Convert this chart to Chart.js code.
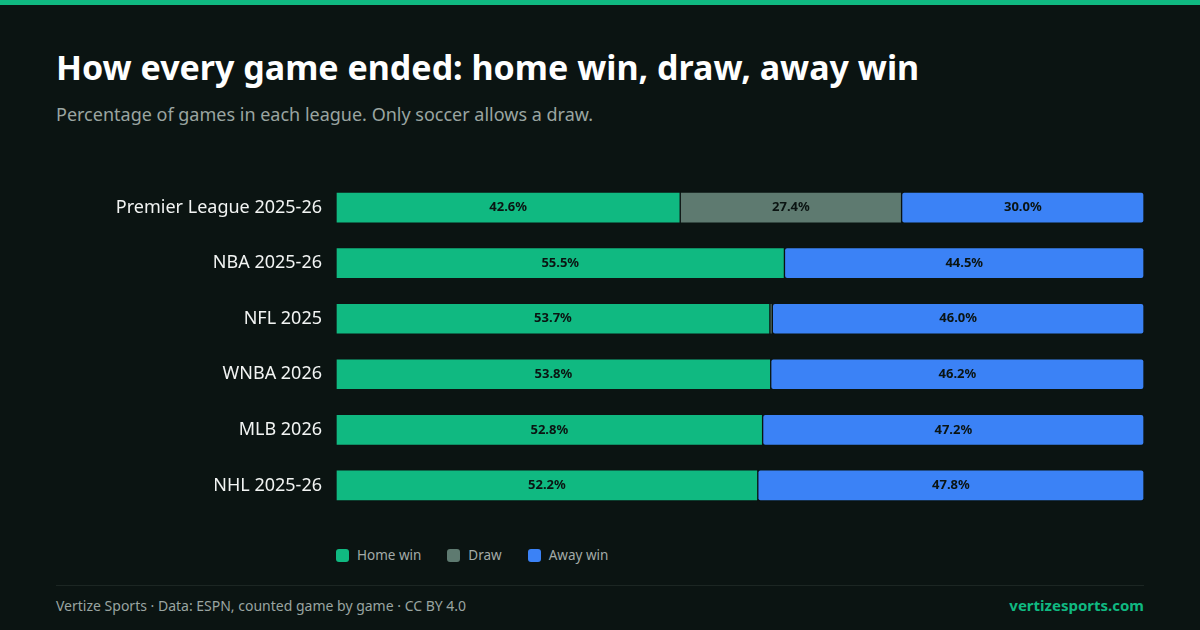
<!DOCTYPE html>
<html>
<head>
<meta charset="utf-8">
<script src="https://cdn.jsdelivr.net/npm/chart.js@4"></script>
<style>
  body { margin: 0; width: 1200px; height: 630px; background: #0b1412; font-family: "Noto Sans", sans-serif; overflow: hidden; position: relative; }
  .topbar { position: absolute; left: 0; top: 0; width: 1200px; height: 5px; background: #10b981; }
  h1 { position: absolute; left: 56px; top: 44px; margin: 0; font-size: 34px; font-weight: 700; color: #fff; }
  .sub { position: absolute; left: 56px; top: 102px; font-size: 18px; color: #9aa5a1; }
  #c { position: absolute; left: 56px; top: 155px; }
  .legend { position: absolute; left: 336px; top: 546px; font-size: 13.5px; color: #a3aba8; display: flex; gap: 26px; }
  .legend span { display: inline-flex; align-items: center; gap: 8px; }
  .legend i { width: 13px; height: 13px; border-radius: 3px; display: inline-block; }
  .rule { position: absolute; left: 56px; top: 585px; width: 1088px; height: 1px; background: #1c2623; }
  .foot { position: absolute; left: 56px; top: 596px; font-size: 14px; color: #9aa5a1; }
  .site { position: absolute; right: 56px; top: 595px; font-size: 15px; font-weight: 700; color: #10b981; }
</style>
</head>
<body>
<div class="topbar"></div>
<h1>How every game ended: home win, draw, away win</h1>
<div class="sub">Percentage of games in each league. Only soccer allows a draw.</div>
<canvas id="c" width="1088" height="383"></canvas>
<div class="legend">
  <span><i style="background:#10b981"></i>Home win</span>
  <span><i style="background:#5e7a70"></i>Draw</span>
  <span><i style="background:#3b82f6"></i>Away win</span>
</div>
<div class="rule"></div>
<div class="foot">Vertize Sports · Data: ESPN, counted game by game · CC BY 4.0</div>
<div class="site">vertizesports.com</div>
<script>
const leagues = ['Premier League 2025-26', 'NBA 2025-26', 'NFL 2025', 'WNBA 2026', 'MLB 2026', 'NHL 2025-26'];
const homeWin = [42.6, 55.5, 53.7, 53.8, 52.8, 52.2];
const draw = [27.4, 0, 0.3, 0, 0, 0];
const awayWin = [30.0, 44.5, 46.0, 46.2, 47.2, 47.8];

// writes the percentage in the middle of each wide enough segment
const barLabels = {
    id: 'barLabels',
    afterDatasetsDraw(chart) {
        const ctx = chart.ctx;
        ctx.save();
        ctx.font = 'bold 13px "Noto Sans"';
        ctx.fillStyle = '#0b1412';
        ctx.textAlign = 'center';
        ctx.textBaseline = 'middle';
        chart.data.datasets.forEach((ds, i) => {
            chart.getDatasetMeta(i).data.forEach((bar, j) => {
                const v = ds.data[j];
                if (v < 3) return;
                ctx.fillText(v.toFixed(1) + '%', (bar.x + bar.base) / 2, bar.y);
            });
        });
        ctx.restore();
    }
};

function makeSet(label, data, color) {
    return {
        label: label, data: data, backgroundColor: color,
        borderColor: '#0b1412', borderWidth: 1, borderSkipped: false,
        borderRadius: 3, barThickness: 31
    };
}

new Chart(document.getElementById('c'), {
    type: 'bar',
    data: {
        labels: leagues,
        datasets: [
            makeSet('Home win', homeWin, '#10b981'),
            makeSet('Draw', draw, '#5e7a70'),
            makeSet('Away win', awayWin, '#3b82f6')
        ]
    },
    options: {
        indexAxis: 'y',
        responsive: false,
        animation: false,
        layout: { padding: 0 },
        plugins: { legend: { display: false }, tooltip: { enabled: false } },
        scales: {
            x: { stacked: true, min: 0, max: 100, display: false },
            y: {
                stacked: true,
                grid: { display: false, drawTicks: false },
                border: { display: false },
                ticks: { color: '#f2f4f3', font: { size: 18, family: 'Noto Sans' }, padding: 14 },
                afterFit(scale) { scale.width = 280; }
            }
        }
    },
    plugins: [barLabels]
});
</script>
</body>
</html>
